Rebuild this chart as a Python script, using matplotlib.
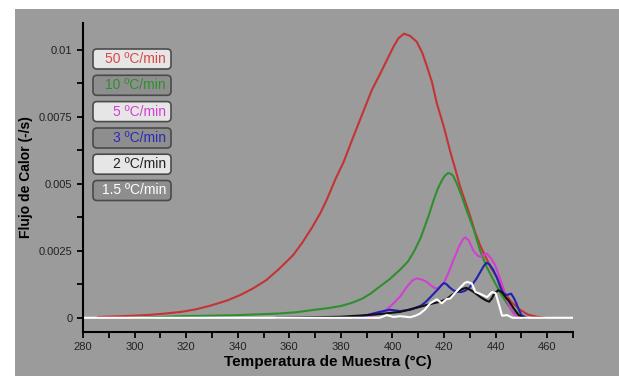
import matplotlib
matplotlib.use("Agg")
import matplotlib.pyplot as plt
from matplotlib.patches import Rectangle, FancyBboxPatch
from matplotlib.transforms import IdentityTransform

plt.rcParams['font.family'] = ['Liberation Sans', 'DejaVu Sans']

# Data (temperature in degC, heat flow in 1/s).
t_50 = [286, 292, 300, 306, 312, 318, 324, 330, 336, 341, 346, 351, 356, 361.5, 365, 369,
        372, 374.5, 378, 381, 385, 388.7, 392, 395.2, 398, 400.3, 402.3, 404.5, 406.8,
        409.4, 411.5, 413.3, 415.3, 417.2, 420, 422.4, 424.5, 426.2, 428, 430.1, 432, 434,
        436, 438, 440.5, 443, 446, 449.5, 452.5, 456, 459]
q_50 = [0.00003, 0.00005, 0.00008, 0.00011, 0.00016, 0.00022, 0.00032, 0.00047, 0.00065,
        0.00085, 0.0011, 0.0014, 0.00182, 0.00234, 0.0028, 0.0034, 0.0039, 0.0044, 0.0052,
        0.0058, 0.0068, 0.0077, 0.0085, 0.0091, 0.00965, 0.0101, 0.01043, 0.0106, 0.01052,
        0.0103, 0.0099, 0.0094, 0.0088, 0.008, 0.0071, 0.0062, 0.0055, 0.0049, 0.0044,
        0.0038, 0.0032, 0.0027, 0.0023, 0.0019, 0.0015, 0.001, 0.0006, 0.0003, 0.00012,
        0.00004, 0.0]

t_10 = [300, 318, 340, 356, 363, 369, 375, 380, 384, 388, 391.5, 395, 399, 403, 406, 408.5,
        411, 414, 416, 417.5, 419, 420.3, 421.5, 422.5, 423.5, 425, 427, 428.8, 431.5, 434,
        436.5, 439.2, 442, 444.4, 446.5, 448.2, 451]
q_10 = [0.0, 0.00006, 0.0001, 0.00016, 0.00021, 0.00029, 0.00036, 0.00044, 0.00055, 0.0007,
        0.0009, 0.00116, 0.00145, 0.0018, 0.0021, 0.0025, 0.003, 0.0038, 0.0044, 0.0048,
        0.0051, 0.0053, 0.0054, 0.00538, 0.0053, 0.005, 0.0045, 0.004, 0.0033, 0.0025,
        0.0019, 0.0014, 0.0009, 0.00054, 0.00025, 0.0001, 0.0]

t_5 = [385, 390, 393, 395.2, 398, 400.4, 403, 405.6, 407.8, 409.4, 411.3, 413.3, 415, 416.5,
       418, 419.8, 421.8, 423.6, 426, 427.5, 428.3, 429.5, 431.4, 433, 434, 435.5, 436.6,
       438.3, 439.8, 441.2, 442.4, 444.4, 446, 447, 449]
q_5 = [0.0, 0.00004, 0.0001, 0.00016, 0.00032, 0.00054, 0.0008, 0.00116, 0.0014, 0.00147,
       0.00143, 0.00134, 0.0012, 0.0011, 0.00112, 0.00128, 0.0017, 0.00215, 0.0027, 0.00295,
       0.003, 0.0029, 0.0025, 0.00232, 0.00228, 0.00235, 0.0024, 0.0022, 0.00197, 0.0016,
       0.00128, 0.00066, 0.0003, 0.00016, 0.0]

t_3 = [385, 390, 395, 399, 403, 407, 411, 413, 415, 416.5, 418, 419, 420, 421, 422, 423.5,
       425, 426.5, 428, 429.5, 431, 432.5, 434, 435.5, 436.5, 437.5, 439, 440.5, 442, 443,
       444, 445, 446, 447, 448, 449, 450, 452]
q_3 = [0.0, 0.0001, 0.00022, 0.0003, 0.00025, 0.0003, 0.00045, 0.0006, 0.0008, 0.00095,
       0.0011, 0.00122, 0.0013, 0.00125, 0.00115, 0.00103, 0.00097, 0.00096, 0.001, 0.0011,
       0.00125, 0.00145, 0.0017, 0.00195, 0.00205, 0.002, 0.0018, 0.0015, 0.0011, 0.00092,
       0.00085, 0.00087, 0.0009, 0.00075, 0.00055, 0.0003, 0.0001, 0.0]

t_2 = [355, 370, 380, 390, 396, 403, 410.7, 414, 418.5, 421, 423, 425, 427, 428.5, 430,
       431.5, 434, 436, 437.5, 438.5, 439.5, 441, 442.5, 444, 445, 447, 449, 451]
q_2 = [0.0, 0.00002, 0.00004, 0.0001, 0.00015, 0.00022, 0.00041, 0.0005, 0.0006, 0.0007,
       0.00085, 0.00097, 0.00107, 0.00112, 0.00105, 0.00096, 0.00078, 0.00066, 0.0006,
       0.00072, 0.0009, 0.00103, 0.00095, 0.00075, 0.00065, 0.00035, 0.0001, 0.0]

t_15 = [280, 395, 397.8, 400.4, 403, 406.9, 409, 410.7, 412.5, 414.6, 417.2, 419.1, 421,
        422.4, 425, 428, 429.1, 430.8, 432.1, 434.1, 436.7, 438.6, 440, 441.2, 442.5, 444.5,
        446.5, 470]
q_15 = [0.0, 0.0, 0.0001, 0.00003, 0.00006, 0.00002, 0.00008, 0.00016, 0.0003, 0.00054,
        0.00069, 0.00054, 0.0007, 0.00072, 0.001, 0.0013, 0.00134, 0.00128, 0.00097, 0.00089,
        0.00077, 0.00096, 0.00092, 0.00052, 0.00008, 0.0001, 0.0, 0.0]

series = [
    (t_50, q_50, '#c43434', '50 ºC/min', '#e6e6e6', '#d84848'),
    (t_10, q_10, '#2f8f2f', '10 ºC/min', '#8e8e8e', '#2f8f2f'),
    (t_5, q_5, '#d23fd2', '5 ºC/min', '#e6e6e6', '#d23fd2'),
    (t_3, q_3, '#2222b0', '3 ºC/min', '#8e8e8e', '#2a2ab8'),
    (t_2, q_2, '#111111', '2 ºC/min', '#e6e6e6', '#222222'),
    (t_15, q_15, '#ffffff', '1.5 ºC/min', '#8e8e8e', '#ffffff'),
]

W, H = 619, 376
fig = plt.figure(figsize=(W / 100, H / 100), dpi=100)
fig.patch.set_facecolor('white')
fig.patches.append(Rectangle((15 / W, 0), 1 - 15 / W, 1 - 9 / H, transform=fig.transFigure,
                             facecolor='#9b9b9b', edgecolor='none', zorder=-10))

ax = fig.add_axes([83 / W, 44 / H, (573 - 83) / W, (332 - 23) / H])
ax.set_facecolor('none')

for t, q, c, lab, fc, tc in series:
    ax.plot(t, q, color=c, lw=1.5, solid_joinstyle='round')

ax.set_xlim(280, 470)
ax.set_ylim(-0.00053, 0.011)
ax.set_xticks(range(280, 461, 20))
ax.set_xticks(range(290, 471, 10), minor=True)
ax.set_yticks([0, 0.0025, 0.005, 0.0075, 0.01])
ax.set_yticklabels(['0', '0.0025', '0.005', '0.0075', '0.01'])
ax.set_yticks([0.00125, 0.00375, 0.00625, 0.00875], minor=True)
ax.tick_params(which='both', direction='out', width=1.3, colors='black', labelsize=8,
               labelcolor='#222222')
ax.tick_params(which='major', length=4)
ax.tick_params(which='minor', length=4)
for s in ['top', 'right']:
    ax.spines[s].set_visible(False)
for s in ['left', 'bottom']:
    ax.spines[s].set_linewidth(1.5)

ax.set_xlabel('Temperatura de Muestra (°C)', fontsize=11, fontweight='bold', labelpad=2)
ax.set_ylabel('Flujo de Calor (-/s)', fontsize=10, fontweight='bold', labelpad=4)

# Legend boxes drawn in pixel space.
tops = [49, 75.3, 101.6, 128, 154.2, 180.5]
for (t, q, c, lab, fc, tc), top in zip(series, tops):
    y0 = H - top - 20
    box = FancyBboxPatch((95, y0 + 2), 74, 16, boxstyle='round,pad=2,rounding_size=4',
                         transform=IdentityTransform(), facecolor=fc, edgecolor='#4a4a4a',
                         lw=1.2, zorder=5)
    fig.patches.append(box)
    fig.text(166 / W, (y0 + 10) / H, lab, ha='right', va='center', color=tc, fontsize=10,
             zorder=6)

fig.savefig('out.png', dpi=100)
